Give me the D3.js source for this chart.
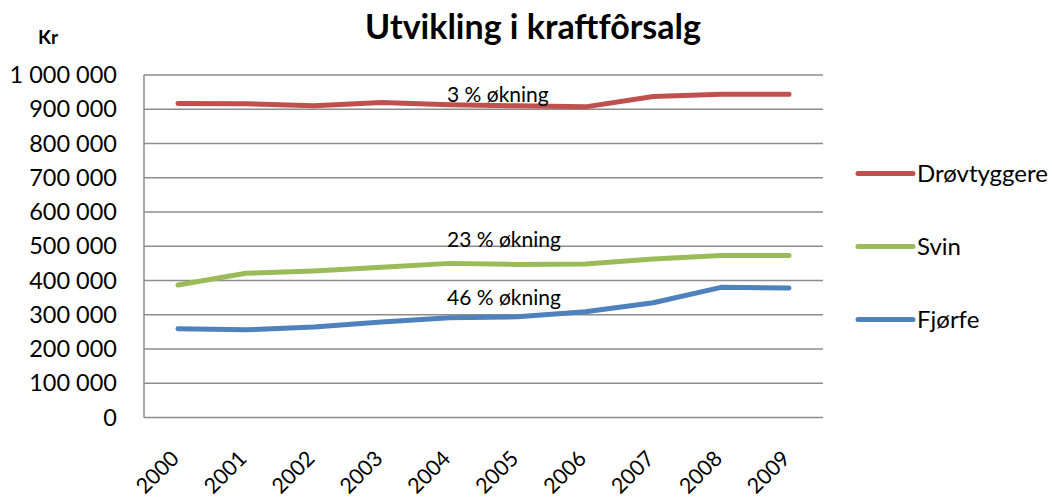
<!DOCTYPE html>
<html>
<head>
<meta charset="utf-8">
<script src="https://cdn.jsdelivr.net/npm/d3@7"></script>
<style>
  body { margin: 0; background: #fff; }
  svg { display: block; font-family: Lato, "Open Sans", sans-serif; }
</style>
</head>
<body>
<svg id="chart" width="1052" height="497"></svg>
<script>
const years = ["2000", "2001", "2002", "2003", "2004", "2005", "2006", "2007", "2008", "2009"];
const drovtyggere = [917000, 916000, 910000, 920000, 913000, 910000, 907000, 937000, 944000, 944000];
const svin = [387000, 421000, 428000, 439000, 450000, 447000, 448000, 463000, 473000, 473000];
const fjorfe = [259000, 256000, 264000, 279000, 291000, 294000, 309000, 335000, 380000, 378000];
const seriesNames = ["Drøvtyggere", "Svin", "Fjørfe"];
const seriesColors = ["#C0504D", "#9BBB59", "#4F81BD"];
const notes = ["3 % økning", "23 % økning", "46 % økning"];
const noteValues = [922000, 499000, 328000];
const yTicks = d3.range(0, 1000001, 100000);

const series = [drovtyggere, svin, fjorfe].map((vals, i) => ({
  name: seriesNames[i],
  color: seriesColors[i],
  values: vals
}));

const svg = d3.select("#chart");
const margin = { top: 75, right: 229, bottom: 79.5, left: 144 };
const width = 1052, height = 497;

const x = d3.scaleBand()
  .domain(years)
  .range([margin.left, width - margin.right]);

const y = d3.scaleLinear()
  .domain([0, 1000000])
  .range([height - margin.bottom, margin.top]);

const fmt = (v) => d3.format(",")(v).replace(/,/g, " ");

// grid
svg.append("g")
  .selectAll("line")
  .data(yTicks)
  .join("line")
  .attr("x1", margin.left)
  .attr("x2", width - margin.right)
  .attr("y1", (d) => y(d))
  .attr("y2", (d) => y(d))
  .attr("stroke", "#8c8c8c")
  .attr("stroke-width", 1.5);

// left axis line
svg.append("line")
  .attr("x1", margin.left).attr("x2", margin.left)
  .attr("y1", y(1000000)).attr("y2", y(0))
  .attr("stroke", "#8c8c8c")
  .attr("stroke-width", 1.5);

// y labels
svg.append("g")
  .selectAll("text")
  .data(yTicks)
  .join("text")
  .attr("x", 117)
  .attr("y", (d) => y(d))
  .attr("dy", "0.35em")
  .attr("text-anchor", "end")
  .style("font-size", "23.5px")
  .text((d) => fmt(d));

// x labels
svg.append("g")
  .selectAll("text")
  .data(years)
  .join("text")
  .attr("transform", (d) => `translate(${x(d) + x.bandwidth() / 2 - 3},${y(0) + 37}) rotate(-45)`)
  .attr("text-anchor", "end")
  .attr("dy", "0.35em")
  .style("font-size", "21.5px")
  .text((d) => d);

// lines
const line = d3.line()
  .x((d, i) => x(years[i]) + x.bandwidth() / 2)
  .y((d) => y(d));

svg.append("g")
  .selectAll("path")
  .data(series)
  .join("path")
  .attr("d", (d) => line(d.values))
  .attr("fill", "none")
  .attr("stroke", (d) => d.color)
  .attr("stroke-width", 5)
  .attr("stroke-linecap", "round")
  .attr("stroke-linejoin", "round");

// annotations
svg.append("g")
  .selectAll("text")
  .data(notes)
  .join("text")
  .attr("x", 447)
  .attr("y", (d, i) => y(noteValues[i]))
  .style("font-size", "21px")
  .text((d) => d);

// legend
const legend = svg.append("g")
  .selectAll("g")
  .data(series)
  .join("g")
  .attr("transform", (d, i) => `translate(858,${173.5 + i * 73})`);

legend.append("line")
  .attr("x1", 0).attr("x2", 55)
  .attr("stroke", (d) => d.color)
  .attr("stroke-width", 5)
  .attr("stroke-linecap", "round");

legend.append("text")
  .attr("x", 59)
  .attr("dy", "0.35em")
  .style("font-size", "24px")
  .text((d) => d.name);

// title
svg.append("text")
  .attr("x", 533)
  .attr("y", 39)
  .attr("text-anchor", "middle")
  .style("font-size", "34px")
  .style("font-weight", "bold")
  .text("Utvikling i kraftfôrsalg");

svg.append("text")
  .attr("x", 38)
  .attr("y", 44)
  .style("font-size", "19px")
  .style("font-weight", "bold")
  .text("Kr");
</script>
</body>
</html>
